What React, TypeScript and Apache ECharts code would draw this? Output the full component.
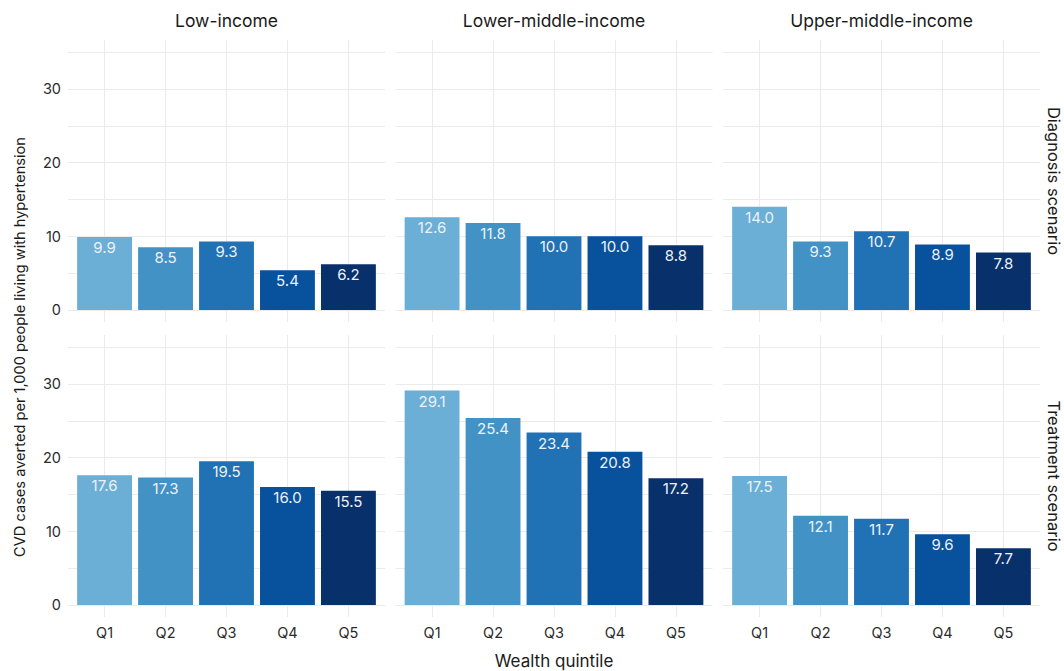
import React, { useEffect, useRef } from "react";
import * as echarts from "echarts";

const categories = ["Q1", "Q2", "Q3", "Q4", "Q5"];
const incomeGroups = ["Low-income", "Lower-middle-income", "Upper-middle-income"];
const scenarios = ["Diagnosis scenario", "Treatment scenario"];
const quintileColors = ["#6baed6", "#4292c6", "#2171b5", "#08519c", "#08306b"];

const diagnosisLow = [9.9, 8.5, 9.3, 5.4, 6.2];
const diagnosisLowerMiddle = [12.6, 11.8, 10.0, 10.0, 8.8];
const diagnosisUpperMiddle = [14.0, 9.3, 10.7, 8.9, 7.8];
const treatmentLow = [17.6, 17.3, 19.5, 16.0, 15.5];
const treatmentLowerMiddle = [29.1, 25.4, 23.4, 20.8, 17.2];
const treatmentUpperMiddle = [17.5, 12.1, 11.7, 9.6, 7.7];

const yTicks = [0, 10, 20, 30];
const yGridValues = [0, 5, 10, 15, 20, 25, 30, 35];

const panelData = [
  [diagnosisLow, diagnosisLowerMiddle, diagnosisUpperMiddle],
  [treatmentLow, treatmentLowerMiddle, treatmentUpperMiddle],
];

const FONT = "Inter, 'Noto Sans', sans-serif";

export default function App() {
  const ref = useRef<HTMLDivElement>(null);
  useEffect(() => {
    if (!ref.current) return;
    const chart = echarts.init(ref.current, null, { renderer: "svg" });
    const colLeft = [68, 395.5, 723];
    const rowTop = [40, 335];
    const panelW = 317;
    const panelH = 282;
    const xMin = 0.4;
    const xMax = categories.length + 0.6;
    const barWidth = (panelW / (xMax - xMin)) * 0.9;

    const grids: any[] = [];
    const xAxes: any[] = [];
    const yAxes: any[] = [];
    const series: any[] = [];
    let idx = 0;
    for (let r = 0; r < scenarios.length; r++) {
      for (let c = 0; c < incomeGroups.length; c++) {
        grids.push({ left: colLeft[c], top: rowTop[r], width: panelW, height: panelH });
        xAxes.push({
          gridIndex: idx,
          type: "value",
          min: xMin,
          max: xMax,
          axisLine: { show: false },
          axisTick: { show: false },
          splitLine: { show: false },
          axisLabel: {
            show: r === scenarios.length - 1,
            customValues: categories.map((_, i) => i + 1),
            formatter: (v: number) => categories[Math.round(v) - 1] ?? "",
            margin: 8,
            fontSize: 14.5,
            color: "#2b2b2b",
            fontFamily: FONT,
          },
        });
        yAxes.push({
          gridIndex: idx,
          type: "value",
          min: -1.63,
          max: 36.65,
          axisLine: { show: false },
          axisTick: { show: false },
          splitLine: { show: false },
          axisLabel: {
            show: c === 0,
            customValues: yTicks,
            margin: 7,
            fontSize: 14.5,
            color: "#2b2b2b",
            fontFamily: FONT,
          },
        });
        const values = panelData[r][c];
        series.push({
          type: "line",
          xAxisIndex: idx,
          yAxisIndex: idx,
          data: values.map((v, i) => [i + 1, v]),
          symbol: "none",
          lineStyle: { opacity: 0, width: 0 },
          silent: true,
          z: 1,
          markLine: {
            z: 1,
            silent: true,
            symbol: ["none", "none"],
            label: { show: false },
            lineStyle: { color: "#ebebeb", width: 1, type: "solid" },
            data: [
              ...yGridValues.map((y) => ({ yAxis: y })),
              ...categories.map((_, i) => ({ xAxis: i + 1 })),
            ],
          },
        });
        series.push({
          type: "bar",
          xAxisIndex: idx,
          yAxisIndex: idx,
          barWidth,
          z: 3,
          data: values.map((v, i) => ({
            value: [i + 1, v],
            itemStyle: { color: quintileColors[i] },
          })),
          label: {
            show: true,
            position: "insideTop",
            distance: 3,
            color: "#eef2f7",
            fontSize: 15,
            fontFamily: FONT,
            formatter: (p: any) => Number(p.value[1]).toFixed(1),
          },
        });
        idx++;
      }
    }

    const textStyle = (text: string, size: number) => ({
      text,
      align: "center",
      verticalAlign: "middle",
      fontSize: size,
      fontFamily: FONT,
      fill: "#1a1a1a",
    });

    const graphics: any[] = [];
    incomeGroups.forEach((g, c) => {
      graphics.push({
        type: "text",
        x: colLeft[c] + panelW / 2,
        y: 20,
        style: textStyle(g, 17.5),
      });
    });
    scenarios.forEach((s, r) => {
      graphics.push({
        type: "text",
        x: 1054,
        y: rowTop[r] + panelH / 2,
        rotation: -Math.PI / 2,
        style: textStyle(s, 16.5),
      });
    });
    graphics.push({
      type: "text",
      x: 20,
      y: 347,
      rotation: Math.PI / 2,
      style: textStyle("CVD cases averted per 1,000 people living with hypertension", 14.6),
    });
    graphics.push({
      type: "text",
      x: 554,
      y: 661,
      style: textStyle("Wealth quintile", 17),
    });

    chart.setOption({
      animation: false,
      backgroundColor: "#ffffff",
      grid: grids,
      xAxis: xAxes,
      yAxis: yAxes,
      series,
      graphic: graphics,
    });
    return () => chart.dispose();
  }, []);
  return (
    <div
      ref={ref}
      style={{ position: "fixed", left: 0, top: 0, width: 1064, height: 671 }}
    />
  );
}
